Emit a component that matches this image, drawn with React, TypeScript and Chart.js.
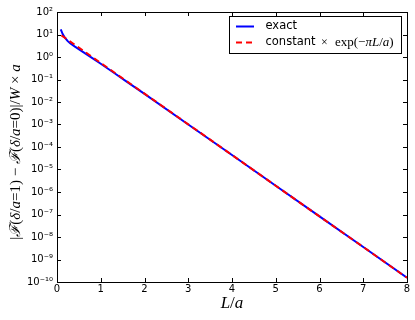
import React, { useEffect, useRef } from "react";
import { Chart, registerables } from "chart.js";

Chart.register(...registerables);

// ---- data ----
const exactL = [0.085, 0.1, 0.13, 0.18, 0.24, 0.3, 0.41, 0.6, 0.8, 1.0, 1.3, 1.6, 2, 3, 4, 5, 6, 7, 8];
const exactV = [17, 14.5, 10.5, 7.2, 5.2, 4.1, 2.9, 1.66, 0.91, 0.5, 0.2, 0.079, 0.0229, 1.0e-3, 4.4e-5, 1.9e-6, 8.2e-8, 3.6e-9, 1.54e-10];
const fitL = [0.1, 1, 2, 3, 4, 5, 6, 7, 8];
const fitV = [9.2, 0.544, 0.0235, 1.02e-3, 4.4e-5, 1.9e-6, 8.2e-8, 3.6e-9, 1.54e-10];
const xTickValues = [0, 1, 2, 3, 4, 5, 6, 7, 8];
const yTickExponents = [2, 1, 0, -1, -2, -3, -4, -5, -6, -7, -8, -9, -10];
const legendLabels = ["exact", "constant"];

const SUP: Record<string, string> = {
  "-": "⁻", "0": "⁰", "1": "¹", "2": "²", "3": "³", "4": "⁴",
  "5": "⁵", "6": "⁶", "7": "⁷", "8": "⁸", "9": "⁹",
};
const supLabel = (e: number) => "10" + String(e).split("").map((c) => SUP[c]).join("");

const SANS = '"DejaVu Sans", sans-serif';
const SERIF = '"Liberation Serif", "DejaVu Serif", serif';

function drawPieces(ctx: CanvasRenderingContext2D, pieces: [string, boolean][], size: number, x: number, y: number, align: "left" | "center") {
  let total = 0;
  const widths = pieces.map(([t, it]) => {
    ctx.font = `${it ? "italic " : ""}${size}px ${SERIF}`;
    const w = ctx.measureText(t).width;
    total += w;
    return w;
  });
  let cx = align === "center" ? x - total / 2 : x;
  ctx.textAlign = "left";
  pieces.forEach(([t, it], i) => {
    ctx.font = `${it ? "italic " : ""}${size}px ${SERIF}`;
    ctx.fillText(t, cx, y);
    cx += widths[i];
  });
}

const decorPlugin = {
  id: "decor",
  afterDraw(chart: any) {
    const { ctx, chartArea: a, scales } = chart;
    ctx.save();
    ctx.strokeStyle = "#000";
    ctx.lineWidth = 1;
    // ticks inward on all sides
    ctx.beginPath();
    for (const v of xTickValues) {
      const px = Math.round(scales.x.getPixelForValue(v)) + 0.5;
      ctx.moveTo(px, a.bottom); ctx.lineTo(px, a.bottom - 4);
      ctx.moveTo(px, a.top); ctx.lineTo(px, a.top + 4);
    }
    for (const e of yTickExponents) {
      const py = Math.round(scales.y.getPixelForValue(Math.pow(10, e))) + 0.5;
      ctx.moveTo(a.left, py); ctx.lineTo(a.left + 4, py);
      ctx.moveTo(a.right, py); ctx.lineTo(a.right - 4, py);
    }
    ctx.stroke();
    ctx.strokeRect(Math.round(a.left) + 0.5, Math.round(a.top) + 0.5, Math.round(a.right - a.left), Math.round(a.bottom - a.top));

    // legend
    const lx = 229.5, ly = 16.5, lw = 172, lh = 37;
    ctx.fillStyle = "#fff";
    ctx.fillRect(lx, ly, lw, lh);
    ctx.strokeRect(lx, ly, lw, lh);
    ctx.lineWidth = 2;
    ctx.strokeStyle = "#0000ff";
    ctx.beginPath(); ctx.moveTo(236, 26.5); ctx.lineTo(254, 26.5); ctx.stroke();
    ctx.strokeStyle = "#ff0000";
    ctx.setLineDash([6, 4]);
    ctx.beginPath(); ctx.moveTo(236, 42.5); ctx.lineTo(252, 42.5); ctx.stroke();
    ctx.setLineDash([]);
    ctx.fillStyle = "#000";
    ctx.textBaseline = "middle";
    ctx.font = `11.5px ${SANS}`;
    ctx.textAlign = "left";
    ctx.fillText(legendLabels[0], 265.5, 26.5);
    ctx.fillText(legendLabels[1], 265.5, 42.5);
    drawPieces(ctx, [["×", false]], 12, 321, 42.5, "left");
    drawPieces(ctx, [["exp(−", false], ["πL", true], ["/", false], ["a", true], [")", false]], 13, 335, 42.5, "left");

    // x title
    ctx.textBaseline = "middle";
    drawPieces(ctx, [["L", true], ["/", false], ["a", true]], 17, (a.left + a.right) / 2, 304, "center");

    // y title
    ctx.save();
    ctx.translate(16, 152);
    ctx.rotate(-Math.PI / 2);
    drawPieces(ctx, [
      ["|", false], ["ℱ", true], ["(", false], ["δ", true], ["/", false], ["a", true], ["=1) − ", false],
      ["ℱ", true], ["(", false], ["δ", true], ["/", false], ["a", true], ["=0)|/", false], ["W", true],
      [" × ", false], ["a", true],
    ], 15, 0, 0, "center");
    ctx.restore();
    ctx.restore();
  },
};

export default function App() {
  const ref = useRef<HTMLCanvasElement>(null);
  useEffect(() => {
    const chart = new Chart(ref.current!, {
      type: "line",
      data: {
        datasets: [
          {
            label: "exact",
            data: exactL.map((x, i) => ({ x, y: exactV[i] })),
            borderColor: "#0000ff",
            borderWidth: 2,
            pointRadius: 0,
            fill: false,
            tension: 0,
            order: 1,
          },
          {
            label: "constant × exp(−πL/a)",
            data: fitL.map((x, i) => ({ x, y: fitV[i] })),
            borderColor: "#ff0000",
            borderWidth: 2,
            borderDash: [6, 4],
            pointRadius: 0,
            fill: false,
            tension: 0,
            order: 0,
          },
        ],
      },
      options: {
        animation: false,
        responsive: false,
        maintainAspectRatio: false,
        layout: { padding: { left: 0, top: 12, right: 8, bottom: 0 } },
        plugins: { legend: { display: false }, tooltip: { enabled: false }, title: { display: false } },
        scales: {
          x: {
            type: "linear",
            min: 0,
            max: 8,
            afterBuildTicks: (s: any) => { s.ticks = xTickValues.map((v) => ({ value: v })); },
            afterFit: (s: any) => { s.height = 38; },
            ticks: { color: "#000", font: { family: SANS, size: 10 }, padding: 1, maxRotation: 0, callback: (v: any) => String(v) },
            grid: { display: false, drawTicks: false },
            border: { display: false },
          },
          y: {
            type: "logarithmic",
            min: 1e-10,
            max: 1e2,
            afterBuildTicks: (s: any) => { s.ticks = yTickExponents.map((e) => ({ value: Math.pow(10, e) })); },
            afterFit: (s: any) => { s.width = 57; },
            ticks: {
              color: "#000",
              font: { family: SANS, size: 10 },
              padding: 4,
              autoSkip: false,
              callback: (v: any) => supLabel(Math.round(Math.log10(Number(v)))),
            },
            grid: { display: false, drawTicks: false },
            border: { display: false },
          },
        },
      },
      plugins: [decorPlugin],
    } as any);
    return () => chart.destroy();
  }, []);
  return (
    <div style={{ position: "absolute", left: 0, top: 0, width: 415, height: 320, background: "#fff" }}>
      <canvas ref={ref} width={415} height={320} style={{ width: 415, height: 320 }} />
    </div>
  );
}
